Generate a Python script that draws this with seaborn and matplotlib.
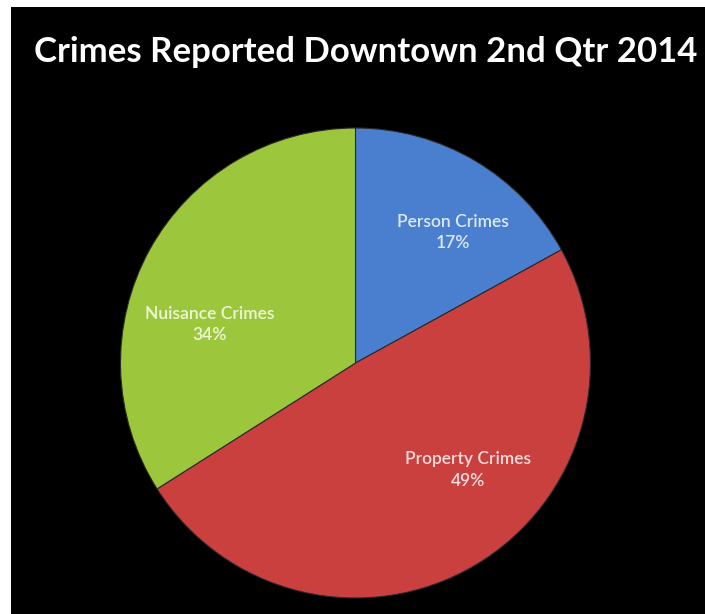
import matplotlib
matplotlib.use("Agg")
import matplotlib.pyplot as plt
from matplotlib.patches import Rectangle
import seaborn as sns

sns.set_theme(style="white")
plt.rcParams["font.family"] = ["Lato", "DejaVu Sans"]

title = "Crimes Reported Downtown 2nd Qtr 2014"
categories = ["Person Crimes", "Property Crimes", "Nuisance Crimes"]
shares = [17, 49, 34]
slice_colors = ["#4a7fd0", "#c9403e", "#9cc73d"]
label_colors = ["#dce8f8", "#f6dcdc", "#eef6d8"]

W, H = 705, 614
fig = plt.figure(figsize=(W / 100, H / 100), dpi=100, facecolor="white")

# black chart background inset from the top and left edges
bg = Rectangle((11 / W, 0), 1 - 11 / W, 1 - 7 / H, transform=fig.transFigure,
               facecolor="black", edgecolor="none", zorder=-10)
fig.add_artist(bg)

fig.text(366 / W, 1 - 52 / H, title, color="white", fontsize=25,
         fontweight="bold", ha="center", va="center")

# pie axes: centre (355, 363) px, radius 235 px
cx, cy, r = 355.5, 363, 235
ax = fig.add_axes([(cx - r) / W, (H - cy - r) / H, 2 * r / W, 2 * r / H])
ax.set_facecolor("none")
ax.axis("off")

wedges, _ = ax.pie(shares, colors=slice_colors, startangle=90, counterclock=False,
                   radius=1.0,
                   wedgeprops=dict(edgecolor="#2a2a2a", linewidth=0.8))
ax.set_xlim(-1, 1)
ax.set_ylim(-1, 1)

# label anchor points in pie units
label_pos = [(0.415, 0.555), (0.477, -0.455), (-0.619, 0.164)]
for name, val, (lx, ly), tc in zip(categories, shares, label_pos, label_colors):
    ax.text(lx, ly, f"{name}\n{val}%", ha="center", va="center", color=tc,
            fontsize=12.5, fontweight="semibold", linespacing=1.4)

fig.savefig("out.png", dpi=100, facecolor=fig.get_facecolor())
